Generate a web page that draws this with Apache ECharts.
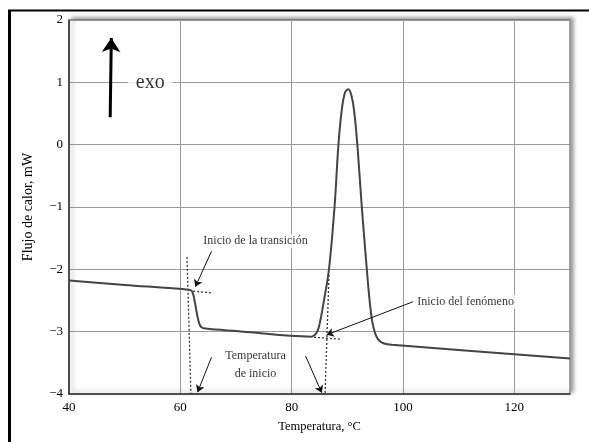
<!DOCTYPE html>
<html>
<head>
<meta charset="utf-8">
<script src="https://cdn.jsdelivr.net/npm/echarts@6/dist/echarts.min.js"></script>
<style>
  html, body { margin: 0; padding: 0; background: #fff; }
  #chart { width: 589px; height: 442px; }
</style>
</head>
<body>
<div id="chart"></div>
<script>
// curva DSC (temperatura, flujo de calor)
const tempC = [40, 50, 61.8, 62.2, 62.6, 63.0, 63.4, 63.8, 64.5, 70, 83.5, 84.2, 84.7, 85.2, 85.8, 86.7, 87.7, 88.4, 89.0, 89.6, 90.2, 90.7, 91.2, 91.8, 92.6, 93.5, 94.0, 94.5, 95.1, 95.8, 96.6, 98, 130];
const flujo = [-2.18, -2.25, -2.33, -2.37, -2.52, -2.72, -2.87, -2.93, -2.95, -2.99, -3.08, -3.05, -2.98, -2.8, -2.5, -2.0, -1.0, 0, 0.56, 0.84, 0.89, 0.8, 0.56, 0, -1.0, -2.0, -2.5, -2.85, -3.05, -3.15, -3.19, -3.21, -3.43];

// lineas punteadas de construccion [x1, y1, x2, y2]
const dotted = [
  [61.2, -1.8, 61.9, -4],
  [62.3, -2.35, 65.9, -2.38],
  [86.7, -2.09, 86.0, -4],
  [84.0, -3.09, 88.8, -3.12]
];

// flechas de anotacion [x1, y1, x2, y2]
const flechas = [
  [65.6, -1.71, 62.7, -2.28],
  [65.6, -3.41, 63.1, -3.97],
  [82.5, -3.39, 85.4, -3.98],
  [101.8, -2.52, 86.3, -3.05]
];
const flechaExo = [47.4, 0.44, 47.6, 1.71];

// textos [x, y, texto, alineacion]
const textos = [
  [73.5, -1.55, 'Inicio de la transición', 'center'],
  [73.5, -3.39, 'Temperatura', 'center'],
  [73.5, -3.68, 'de inicio', 'center'],
  [102.2, -2.52, 'Inicio del fenómeno', 'left']
];
const textoExo = [54.6, 1.0, 'exo'];

const xTicks = { min: 40, max: 130, interval: 20 };
const yTicks = { min: -4, max: 2, interval: 1 };

const serif = 'Liberation Serif';
const chart = echarts.init(document.getElementById('chart'));

chart.setOption({
  animation: false,
  backgroundColor: '#fff',
  grid: {
    left: 69, right: 19, top: 20, bottom: 48,
    show: true,
    backgroundColor: '#fff',
    borderColor: '#555',
    borderWidth: 1,
    shadowColor: 'rgba(0,0,0,0.4)',
    shadowBlur: 4,
    shadowOffsetX: 3,
    shadowOffsetY: -2
  },
  graphic: [
    { type: 'line', shape: { x1: 8, y1: 10.5, x2: 589, y2: 10.5 }, style: { stroke: '#000', lineWidth: 2 } },
    { type: 'line', shape: { x1: 9.5, y1: 10, x2: 9.5, y2: 442 }, style: { stroke: '#000', lineWidth: 3 } }
  ],
  xAxis: {
    type: 'value',
    min: xTicks.min, max: xTicks.max, interval: xTicks.interval,
    name: 'Temperatura, °C',
    nameLocation: 'middle',
    nameGap: 26,
    nameTextStyle: { fontFamily: serif, fontSize: 12.5, color: '#000' },
    axisLine: { show: true, onZero: false, lineStyle: { color: '#333', width: 1.5 } },
    axisTick: { show: false },
    axisLabel: { fontFamily: serif, fontSize: 13, color: '#000', margin: 7,
      showMaxLabel: false },
    splitLine: { show: true, lineStyle: { color: '#999', width: 1 } }
  },
  yAxis: {
    type: 'value',
    min: yTicks.min, max: yTicks.max, interval: yTicks.interval,
    name: 'Flujo de calor, mW',
    nameLocation: 'middle',
    nameGap: 34,
    nameTextStyle: { fontFamily: serif, fontSize: 14, color: '#000' },
    axisLine: { show: true, onZero: false, lineStyle: { color: '#333', width: 1.5 } },
    axisTick: { show: false },
    axisLabel: { fontFamily: serif, fontSize: 13, color: '#000', margin: 6,
      formatter: v => String(v).replace('-', '\u2212') },
    splitLine: { show: true, lineStyle: { color: '#999', width: 1 } }
  },
  series: [
    {
      type: 'lines',
      coordinateSystem: 'cartesian2d',
      silent: true,
      symbol: ['none', 'none'],
      lineStyle: { color: '#333', width: 1.3, type: [2, 2], opacity: 1 },
      data: dotted.map(d => ({ coords: [[d[0], d[1]], [d[2], d[3]]] })),
      z: 3
    },
    {
      type: 'line',
      data: tempC.map((t, i) => [t, flujo[i]]),
      showSymbol: false,
      smooth: 0.35,
      lineStyle: { color: '#444', width: 2 },
      z: 4
    },
    {
      type: 'lines',
      coordinateSystem: 'cartesian2d',
      silent: true,
      symbol: ['none', 'arrow'],
      symbolSize: 7,
      lineStyle: { color: '#111', width: 1, opacity: 1 },
      data: flechas.map(d => ({ coords: [[d[0], d[1]], [d[2], d[3]]] })),
      z: 5
    },
    {
      type: 'lines',
      coordinateSystem: 'cartesian2d',
      silent: true,
      symbol: ['none', 'arrow'],
      symbolSize: 14,
      lineStyle: { color: '#000', width: 3, opacity: 1 },
      data: [{ coords: [[flechaExo[0], flechaExo[1]], [flechaExo[2], flechaExo[3]]] }],
      z: 5
    },
    {
      type: 'scatter',
      symbolSize: 0,
      silent: true,
      z: 6,
      data: textos.map(d => ({
        value: [d[0], d[1]],
        label: { show: true, position: 'inside', formatter: d[2], align: d[3],
          fontFamily: serif, fontSize: 12, color: '#000',
          backgroundColor: '#fff', padding: [1, 2] }
      }))
    },
    {
      type: 'scatter',
      symbolSize: 0,
      silent: true,
      z: 6,
      data: [{
        value: [textoExo[0], textoExo[1]],
        label: { show: true, position: 'inside', formatter: textoExo[2],
          fontFamily: serif, fontSize: 20, color: '#000',
          backgroundColor: '#fff', padding: [0, 8] }
      }]
    }
  ]
});
</script>
</body>
</html>
